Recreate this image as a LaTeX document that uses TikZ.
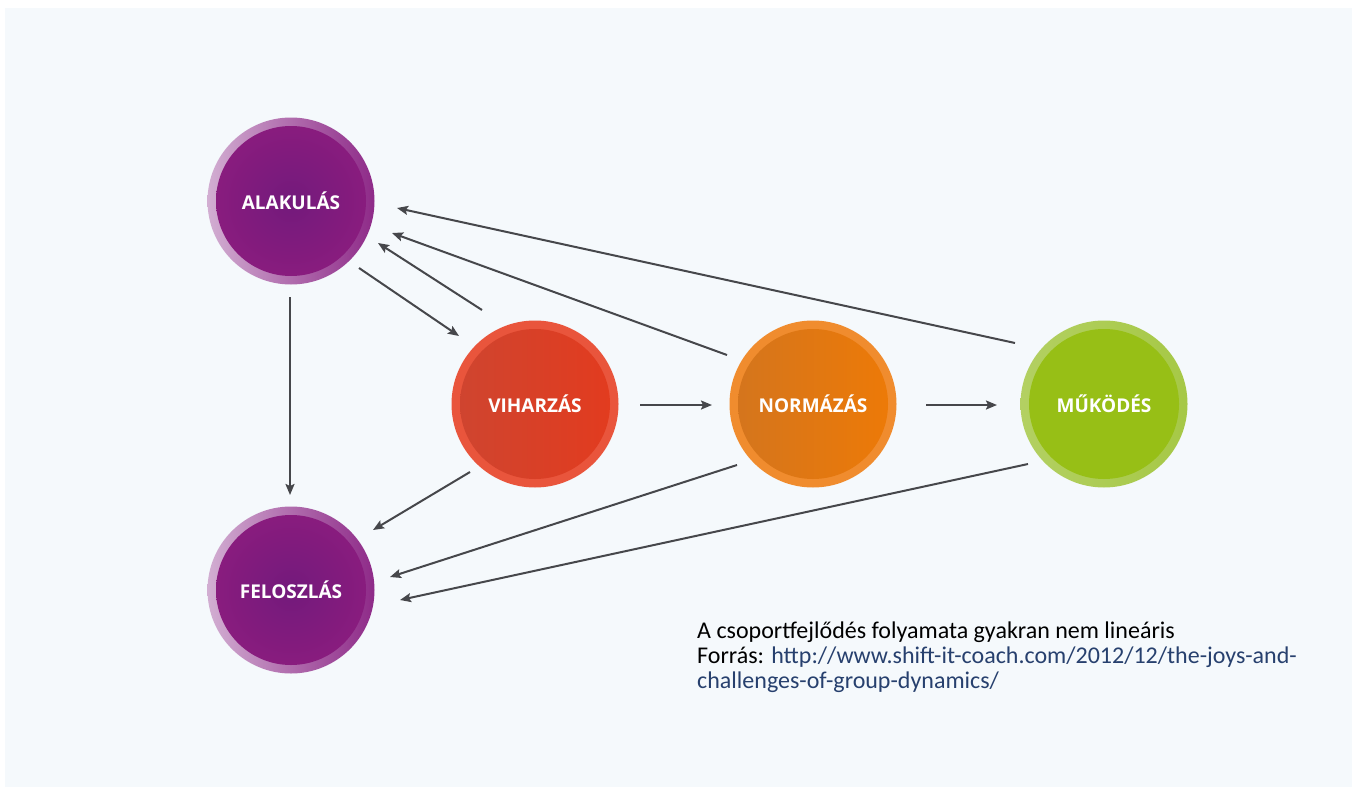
\documentclass[tikz,border=0pt]{standalone}
\usepackage{fontspec}
\setmainfont{Carlito}
\newfontfamily\labelfont{Open Sans}
\usetikzlibrary{arrows.meta,calc}
\definecolor{bgc}{HTML}{F5F9FC}
\definecolor{arrc}{HTML}{46474B}
\definecolor{linkc}{HTML}{27406E}
\definecolor{purL}{HTML}{D2AED2}
\definecolor{purM}{HTML}{9C3E96}
\definecolor{purR}{HTML}{8E2A88}
\definecolor{purIn}{HTML}{731A7C}
\definecolor{purOut}{HTML}{8B1C7E}
\definecolor{redO}{HTML}{E9553C}
\definecolor{redL}{HTML}{CE4530}
\definecolor{redR}{HTML}{E33B1E}
\definecolor{orO}{HTML}{F08C2E}
\definecolor{orL}{HTML}{D3751E}
\definecolor{orR}{HTML}{EE7A06}
\definecolor{grL}{HTML}{B3D062}
\definecolor{grR}{HTML}{A6C846}
\definecolor{grIn}{HTML}{97BF16}
\tikzset{
  stage/.style={circle, minimum size=167pt, inner sep=0pt, text=white,
    font=\labelfont\bfseries\fontsize{19}{20}\selectfont},
  purstage/.style={stage, left color=purL, middle color=purM, right color=purR,
    path picture={\shade[inner color=purIn, outer color=purOut]
      (path picture bounding box.center) circle (75);}},
  redstage/.style={stage, fill=redO,
    path picture={\shade[left color=redL, right color=redR]
      (path picture bounding box.center) circle (75);}},
  orstage/.style={stage, fill=orO,
    path picture={\shade[left color=orL, right color=orR]
      (path picture bounding box.center) circle (75);}},
  grstage/.style={stage, left color=grL, right color=grR,
    path picture={\fill[grIn]
      (path picture bounding box.center) circle (75);}},
  arr/.style={draw=arrc, line width=2pt, -{Stealth[length=11pt,width=9pt,inset=2pt]}},
  captext/.style={anchor=base west, inner sep=0pt, font=\fontsize{24}{26}\selectfont}
}
\begin{document}
\begin{tikzpicture}[x=1pt,y=-1pt]
\useasboundingbox (0,0) rectangle (1352,787);
\fill[white] (0,0) rectangle (1352,787);
\fill[bgc] (5,8) rectangle (1352,787);

\node[purstage] (ala) at (291,201) {ALAKULÁS};
\node[purstage] (fel) at (291,590) {FELOSZLÁS};
\node[redstage] (vih) at (535,404) {VIHARZÁS};
\node[orstage]  (nor) at (813,404) {NORMÁZÁS};
\node[grstage]  (muk) at (1104,404) {MŰKÖDÉS};

\draw[arr] ($(ala.center)+(-1,96)$) -- ($(fel.center)+(-1,-95)$);
\draw[arr] ($(ala.center)+(68,67)$) -- ($(vih.center)+(-76,-68)$);
\draw[arr] ($(vih.center)+(-53,-94)$) -- ($(ala.center)+(87,42)$);
\draw[arr] ($(nor.center)+(-86,-49)$) -- ($(ala.center)+(101,32)$);
\draw[arr] ($(muk.center)+(-89,-61)$) -- ($(ala.center)+(106,7)$);
\draw[arr] ($(vih.center)+(105,1)$) -- ($(nor.center)+(-101,1)$);
\draw[arr] ($(nor.center)+(113,1)$) -- ($(muk.center)+(-107,1)$);
\draw[arr] ($(vih.center)+(-65,68)$) -- ($(fel.center)+(82,-60)$);
\draw[arr] ($(nor.center)+(-76,61)$) -- ($(fel.center)+(99,-13)$);
\draw[arr] ($(muk.center)+(-76,60)$) -- ($(fel.center)+(109,10)$);

\node[captext] (cap1) at (697,638) {A csoportfejlődés folyamata gyakran nem lineáris};
\node[captext] (cap2) at (697,663) {Forrás: \textcolor{linkc}{http://www.shift-it-coach.com/2012/12/the-joys-and-}};
\node[captext, text=linkc] (cap3) at (697,688) {challenges-of-group-dynamics/};
\end{tikzpicture}
\end{document}
